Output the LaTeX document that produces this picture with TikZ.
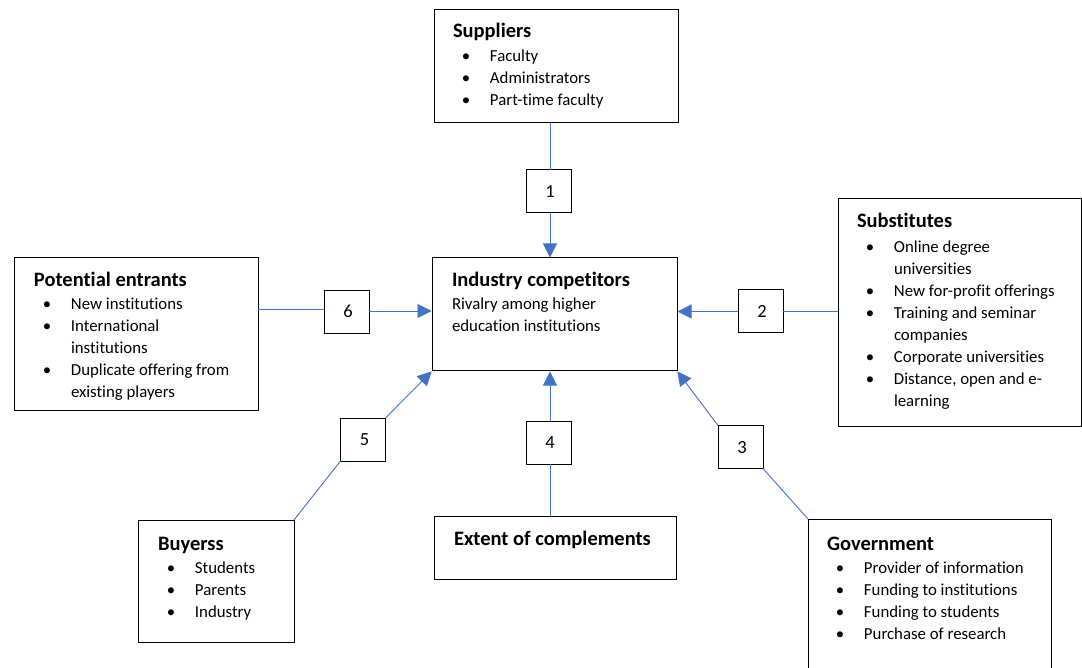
\documentclass[tikz,border=0pt]{standalone}
\usepackage{fontspec}
\setmainfont{Carlito}[Ligatures={NoCommon}]
\usetikzlibrary{arrows.meta}

\definecolor{linkblue}{HTML}{4472C4}

% font sizes for item text and headings
\newcommand\bodysize{\fontsize{16.8}{22}\selectfont}
\newcommand\headsize{\fontsize{20.5}{22}\selectfont\bfseries}
\newcommand\numsize{\fontsize{18.5}{22}\selectfont}
% bulleted item and its continuation line
\newcommand\itm[1]{\makebox[26pt]{\textbullet}\hspace{11pt}#1}
\newcommand\cont[1]{\hspace{37pt}#1}

\tikzset{
  box/.style={draw=black, line width=1pt, fill=white, inner sep=0pt, outer sep=0pt,
              anchor=north west},
  numbox/.style={draw=black, line width=1pt, fill=white, inner sep=0pt, outer sep=0pt,
                 minimum width=45pt, minimum height=43pt, font=\numsize,
                 text depth=0pt, text height=12pt},
  txt/.style={anchor=base west, inner sep=0pt, outer sep=0pt, font=\bodysize},
  link/.style={draw=linkblue, line width=0.9pt},
  arr/.style={link, -{Triangle[length=14pt,width=14pt]}, shorten >=0.5pt}
}

\begin{document}
\begin{tikzpicture}[x=1pt, y=-1pt]
  \clip (0,0) rectangle (1082,668);
  \fill[white] (0,0) rectangle (1082,668);

  % five forces boxes
  \node[box, minimum width=244pt, minimum height=113pt] (sup) at (434,10) {};
  \node[box, minimum width=245pt, minimum height=113pt] (ind) at (432,258) {};
  \node[box, minimum width=242pt, minimum height=63pt]  (comp) at (434,516) {};
  \node[box, minimum width=243pt, minimum height=227pt] (sub) at (838,199) {};
  \node[box, minimum width=244pt, minimum height=152pt] (ent) at (14,258) {};
  \node[box, minimum width=156pt, minimum height=122pt] (buy) at (138,520) {};
  \node[box, minimum width=243pt, minimum height=181pt] (gov) at (808,519) {};

  % numbered boxes on the connectors
  \node[numbox] (n1) at (548.5,191.5) {\hspace{3pt}1};
  \node[numbox] (n2) at (760.5,311.5) {\hspace{3pt}2};
  \node[numbox] (n3) at (740.5,447) {\hspace{3pt}3};
  \node[numbox] (n4) at (548.5,442.5) {\hspace{3pt}4};
  \node[numbox] (n5) at (363,439.5) {\hspace{3pt}5};
  \node[numbox] (n6) at (346.5,312) {\hspace{3pt}6};

  % box contents
  \node[txt] (supT) at (453,38) {\begin{tabular}[t]{@{}l@{}}
    {\headsize Suppliers}\\[2pt]
    \itm{Faculty}\\
    \itm{Administrators}\\
    \itm{Part-time faculty}
  \end{tabular}};

  \node[txt] (indT) at (452,287) {\begin{tabular}[t]{@{}l@{}}
    {\headsize Industry competitors}\\[1pt]
    Rivalry among higher\\
    education institutions
  \end{tabular}};

  \node[txt] (compT) at (454,545) {\headsize Extent of complements};

  \node[txt] (subT) at (857,228) {\begin{tabular}[t]{@{}l@{}}
    {\headsize Substitutes}\\[3pt]
    \itm{Online degree}\\
    \cont{universities}\\
    \itm{New for-profit offerings}\\
    \itm{Training and seminar}\\
    \cont{companies}\\
    \itm{Corporate universities}\\
    \itm{Distance, open and e-}\\
    \cont{learning}
  \end{tabular}};

  \node[txt] (entT) at (34,287) {\begin{tabular}[t]{@{}l@{}}
    {\headsize Potential entrants}\\[1pt]
    \itm{New institutions}\\
    \itm{International}\\
    \cont{institutions}\\
    \itm{Duplicate offering from}\\
    \cont{existing players}
  \end{tabular}};

  \node[txt] (buyT) at (158,550) {\begin{tabular}[t]{@{}l@{}}
    {\headsize Buyerss}\\[1pt]
    \itm{Students}\\
    \itm{Parents}\\
    \itm{Industry}
  \end{tabular}};

  \node[txt] (govT) at (827,550) {\begin{tabular}[t]{@{}l@{}}
    {\headsize Government}\\[1pt]
    \itm{Provider of information}\\
    \itm{Funding to institutions}\\
    \itm{Funding to students}\\
    \itm{Purchase of research}
  \end{tabular}};

  % connectors
  \draw[link] (n1.north -| 550,0) -- (sup.south -| 550,0);
  \draw[arr]  (n1.south -| 550,0) -- (ind.north -| 550,0);

  \draw[link] (sub.west |- n2.east) -- (n2.east);
  \draw[arr]  (n2.west) -- (n2.west -| ind.east);

  \draw[link] (ent.east |- 0,309) -- (n6.west |- 0,309);
  \draw[arr]  (n6.east |- 0,311) -- (ind.west |- 0,311);

  \draw[link] (comp.north -| 550,0) -- (n4.south -| 550,0);
  \draw[arr]  (n4.north -| 550,0) -- (ind.south -| 550,0);

  \draw[link] (buy.north east) -- (n5.south west);
  \draw[arr]  (n5.north east) -- (ind.south west);

  \draw[link] (gov.north west) -- (n3.south east);
  \draw[arr]  (n3.north west) -- (ind.south east);
\end{tikzpicture}
\end{document}
